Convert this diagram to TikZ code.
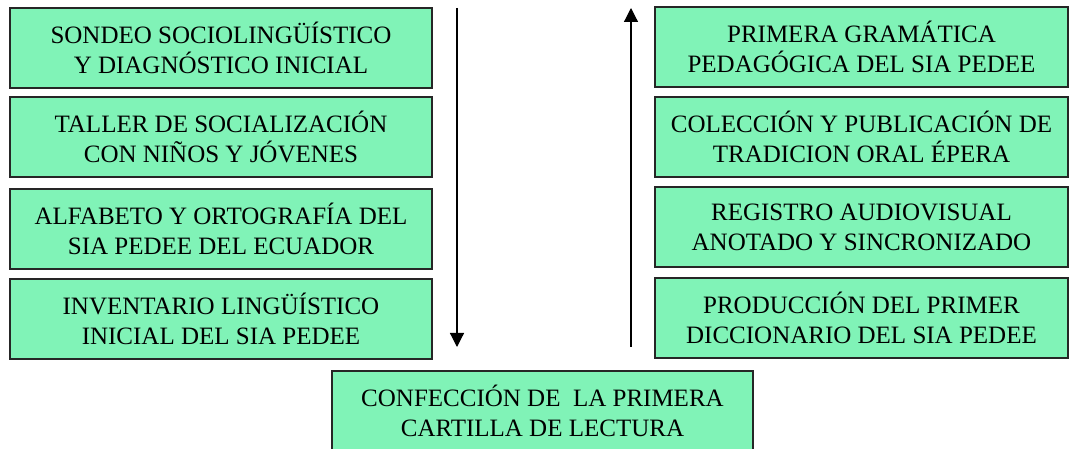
\documentclass[tikz,border=0pt]{standalone}
\usepackage{fontspec}
\setmainfont{Liberation Serif}
\usetikzlibrary{arrows.meta}
\definecolor{boxgreen}{RGB}{128,243,183}
\tikzset{
  etapa/.style={draw=black!85,line width=1.3pt,fill=boxgreen,rectangle,
    minimum height=80pt,align=center,inner sep=0pt,
    font=\fontsize{25}{30}\selectfont},
  flecha/.style={line width=1.2pt,-{Triangle[width=14pt,length=14pt]}}
}
\begin{document}
\begin{tikzpicture}[x=1pt,y=-1pt]
    \useasboundingbox (0,0) rectangle (1072,449);
    % columna izquierda
    \node[etapa,minimum width=422pt] (sondeo) at (221,48) {SONDEO SOCIOLINGÜÍSTICO\\Y DIAGNÓSTICO INICIAL};
    \node[etapa,minimum width=422pt] (taller) at (221,137) {TALLER DE SOCIALIZACIÓN\\CON NIÑOS Y JÓVENES};
    \node[etapa,minimum width=422pt] (alfabeto) at (221,229) {ALFABETO Y ORTOGRAFÍA DEL\\SIA PEDEE DEL ECUADOR};
    \node[etapa,minimum width=422pt] (inventario) at (221,319) {INVENTARIO LINGÜÍSTICO\\INICIAL DEL SIA PEDEE};
    % columna derecha
    \node[etapa,minimum width=413pt] (gramatica) at (861.5,47) {PRIMERA GRAMÁTICA\\PEDAGÓGICA DEL SIA PEDEE};
    \node[etapa,minimum width=413pt] (coleccion) at (861.5,137) {COLECCIÓN Y PUBLICACIÓN DE\\TRADICION ORAL ÉPERA};
    \node[etapa,minimum width=413pt] (registro) at (861.5,227) {REGISTRO AUDIOVISUAL\\ANOTADO Y SINCRONIZADO};
    \node[etapa,minimum width=413pt] (diccionario) at (861.5,318) {PRODUCCIÓN DEL PRIMER\\DICCIONARIO DEL SIA PEDEE};
    % abajo
    \node[etapa,minimum width=421pt] (cartilla) at (542.5,411) {CONFECCIÓN DE\ \ LA PRIMERA\\CARTILLA DE LECTURA};
    % flechas
    \coordinate (bajaA) at (457,8);
    \coordinate (bajaB) at (457,347);
    \coordinate (subeA) at (631,347);
    \coordinate (subeB) at (631,8);
    \draw[flecha] (bajaA) -- (bajaB);
    \draw[flecha] (subeA) -- (subeB);
\end{tikzpicture}
\end{document}
